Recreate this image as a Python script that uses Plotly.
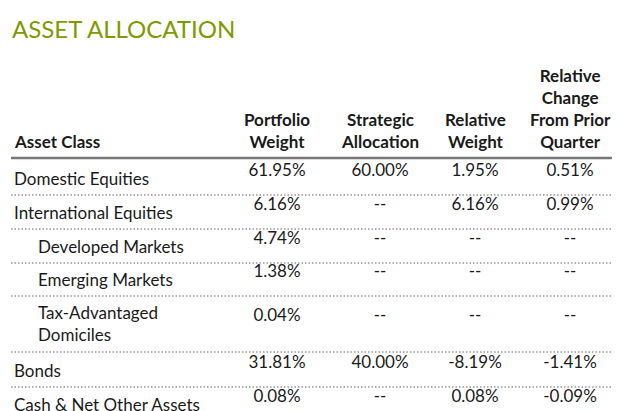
import plotly.graph_objects as go

title = "ASSET ALLOCATION"
headers = ["Asset Class", "Portfolio<br>Weight", "Strategic<br>Allocation", "Relative<br>Weight",
           "Relative<br>Change<br>From Prior<br>Quarter"]
asset_class = ["Domestic Equities", "International Equities", "Developed Markets", "Emerging Markets",
               "Tax-Advantaged<br>Domiciles", "Bonds", "Cash & Net Other Assets"]
indented = [False, False, True, True, True, False, False]
portfolio_weight = ["61.95%", "6.16%", "4.74%", "1.38%", "0.04%", "31.81%", "0.08%"]
strategic_alloc = ["60.00%", "--", "--", "--", "--", "40.00%", "--"]
relative_weight = ["1.95%", "6.16%", "--", "--", "--", "-8.19%", "0.08%"]
relative_change = ["0.51%", "0.99%", "--", "--", "--", "-1.41%", "-0.09%"]

# layout in pixel space
row_y = [170, 204, 238, 271, 315, 362, 396]
sep_y = [187, 221, 255, 288, 344, 379, 410]
col_x = [4, 269, 372, 467, 562]
txt = "#1a1a1a"
font = "Lato"

fig = go.Figure()
for i, name in enumerate(asset_class):
    fig.add_annotation(x=col_x[0] + (24 if indented[i] else 0), y=row_y[i], text=name, showarrow=False,
                       xanchor="left", yanchor="middle", align="left",
                       font=dict(family=font, size=17, color=txt))
for cx, vals in zip(col_x[1:], [portfolio_weight, strategic_alloc, relative_weight, relative_change]):
    fig.add_trace(go.Scatter(
        x=[cx] * len(vals), y=[y - 6 for y in row_y], mode="text", text=vals, textposition="middle center",
        textfont=dict(family=font, size=17, color=txt), hoverinfo="skip"))

for i, (cx, h) in enumerate(zip(col_x, headers)):
    fig.add_annotation(x=cx, y=146, text="<b>" + h + "</b>", showarrow=False,
                       xanchor="left" if i == 0 else "center", yanchor="bottom",
                       align="left" if i == 0 else "center",
                       font=dict(family=font, size=17, color=txt))

fig.add_annotation(x=2, y=20, text=title, showarrow=False, xanchor="left", yanchor="middle",
                   font=dict(family=font, size=24, color="#7d9b00"))

fig.add_shape(type="line", x0=3, x1=617, y0=150, y1=150, line=dict(color="#777777", width=2.5))
for sy in sep_y:
    fig.add_shape(type="line", x0=3, x1=617, y0=sy, y1=sy,
                  line=dict(color="#999999", width=1.5, dash="1.5px,2px"))

fig.update_layout(
    width=620, height=411, margin=dict(l=0, r=0, t=0, b=0),
    paper_bgcolor="white", plot_bgcolor="white", showlegend=False,
    xaxis=dict(range=[0, 620], visible=False, fixedrange=True),
    yaxis=dict(range=[411, 0], visible=False, fixedrange=True),
)
fig.write_html("out.html")
